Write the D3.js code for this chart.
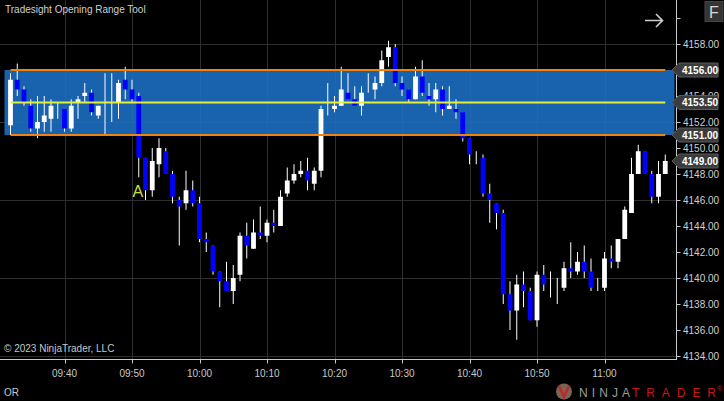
<!DOCTYPE html>
<html><head><meta charset="utf-8">
<script src="https://cdn.jsdelivr.net/npm/d3@7"></script>
<style>html,body{margin:0;padding:0;background:#000;overflow:hidden}svg{display:block}</style>
</head><body>
<script>
const times = ["09:32","09:33","09:34","09:35","09:36","09:37","09:38","09:39","09:40","09:41",
"09:42","09:43","09:44","09:45","09:46","09:47","09:48","09:49","09:50","09:51",
"09:52","09:53","09:54","09:55","09:56","09:57","09:58","09:59","10:00","10:01",
"10:02","10:03","10:04","10:05","10:06","10:07","10:08","10:09","10:10","10:11",
"10:12","10:13","10:14","10:15","10:16","10:17","10:18","10:19","10:20","10:21",
"10:22","10:23","10:24","10:25","10:26","10:27","10:28","10:29","10:30","10:31",
"10:32","10:33","10:34","10:35","10:36","10:37","10:38","10:39","10:40","10:41",
"10:42","10:43","10:44","10:45","10:46","10:47","10:48","10:49","10:50","10:51",
"10:52","10:53","10:54","10:55","10:56","10:57","10:58","10:59","11:00","11:01",
"11:02","11:03","11:04","11:05","11:06","11:07","11:08","11:09"];
const openP = [4151.75,4155.25,4154.5,4153.25,4151.5,4152,4152.25,4153.5,4153,4151.5,
4153.5,4154,4154.25,4152.5,4153.5,4153.5,4153.5,4155.25,4154.5,4154,
4149.25,4146.75,4148.75,4149.75,4148,4146,4145.75,4146.75,4145.75,4143,
4142.5,4140.5,4139.75,4139,4140.25,4143.25,4142.25,4143.5,4143.25,4144.25,
4144,4146.5,4147.5,4148,4148.25,4147.25,4148.25,4153.5,4153,4153.25,
4154.25,4153.75,4153.25,4154.25,4154.5,4155,4157,4157.75,4155,4154.5,
4153.75,4155.5,4154,4153.75,4154.5,4153,4153,4152.75,4150.75,4149.25,
4149.25,4146.5,4145.75,4145,4138.75,4137.5,4139.5,4139,4136.75,4140.25,
4139.5,4139,4139.25,4140.75,4140.5,4141.25,4140.5,4139.5,4139.25,4141.5,
4141.25,4143,4145,4148,4149.75,4148,4146.25,4148];
const highP = [4155.75,4156.5,4154.75,4153.75,4154,4154,4153.75,4153.5,4153,4153.75,
4154,4155,4154.5,4153.25,4155.75,4155.75,4155.25,4156.25,4155.25,4154.25,
4149.25,4150,4150.75,4150,4148.25,4146.25,4148.25,4147.5,4146.25,4143.5,
4142.5,4140.5,4141.25,4141,4143.5,4144.25,4144.5,4145.5,4144.5,4145.25,
4146.75,4148.5,4148.75,4149,4149.25,4148.5,4153.25,4155,4154,4156.25,
4155.75,4154.75,4154.75,4155.75,4155.5,4157.5,4158.25,4158,4155.5,4154.5,
4156.25,4156.75,4155,4155,4154.75,4154.75,4153.75,4152.75,4150.75,4149.75,
4149.5,4147.25,4145.75,4145.25,4139.75,4140.25,4140.5,4139.25,4140.5,4141,
4140.5,4140,4141.25,4142.75,4142,4142.5,4141.5,4140,4142,4142.5,
4143,4145.5,4149.25,4150.25,4149.75,4148.25,4149,4149.5];
const lowP = [4151,4154,4153.25,4151.25,4150.75,4151.25,4151.25,4152.25,4151.25,4151.25,
4152.25,4153.5,4152.5,4152.25,4151,4152,4152.25,4153.75,4153.5,4147.75,
4146,4146.25,4147.75,4148,4145.75,4142.5,4145.25,4145.5,4142.75,4142,
4140.25,4137.75,4139,4138,4139.75,4141.5,4142.25,4143,4142.75,4143.5,
4144,4146.25,4147.25,4147.75,4146.75,4146.75,4147.75,4152.5,4152.75,4153.25,
4153.75,4153.25,4152.5,4154.25,4153.75,4154.75,4156.25,4154.75,4154,4153.5,
4153.75,4154,4153.25,4152.75,4152.5,4153,4152.25,4150.5,4148.75,4148.75,
4146.25,4144.25,4143.75,4138,4136,4135.25,4137.75,4136.75,4136.25,4139,
4138.5,4138,4139,4140,4140.25,4140,4139,4139,4139,4140.75,
4140.75,4143,4145,4148,4148,4145.75,4145.75,4148];
const closeP = [4155.25,4154.5,4153.5,4151.5,4152,4152.5,4153.25,4153.5,4151.5,4153.25,
4153.75,4154.25,4152.75,4153.25,4153.5,4153.5,4155,4154.5,4153.75,4149.25,
4146.75,4149,4150,4148,4146.25,4145.5,4146.75,4145.75,4143,4142.75,
4140.5,4139.75,4139,4140,4143.25,4142.5,4143.5,4143.25,4144.25,4144,
4146.25,4147.5,4148,4148.25,4147.5,4148.25,4153,4153.5,4153.25,4154.5,
4153.75,4153.25,4154.25,4154.25,4155,4156.75,4157.75,4155,4154.5,4153.75,
4155.5,4154.25,4153.75,4154.5,4153,4153.25,4152.75,4150.75,4149.5,4149.25,
4146.5,4146,4145,4138.75,4137.5,4139.5,4139,4136.75,4140.25,4139.5,
4139.5,4139,4140.75,4140.5,4141.25,4140.5,4139.25,4139.5,4141.5,4141.25,
4143,4145.25,4148,4149.75,4148,4146.25,4148,4149];
const timeTicks = ["09:40","09:50","10:00","10:10","10:20","10:30","10:40","10:50","11:00"];
const priceTicks = [4134,4136,4138,4140,4142,4144,4146,4148,4150,4152,4154,4156,4158,4160];
const gridPrices = [4134,4140,4146,4152,4158];
const orHigh = 4156, orLow = 4151, orMid = 4153.5;
const markers = [4156, 4153.5, 4151, 4149];

const W = 724, H = 401;
const parse = d3.timeParse("%H:%M");
const plotRight = 676.5, axisY = 359.5;

const x = d3.scaleTime().domain([parse("09:40"), parse("11:00")]).range([64.5, 604.5]);
const y = d3.scaleLinear().domain([4134, 4158]).range([356, 44]);

const data = times.map((t,i)=>({t:parse(t),o:openP[i],h:highP[i],l:lowP[i],c:closeP[i]}));

const svg = d3.select("body").append("svg").attr("width",W).attr("height",H)
  .style("font-family","'Liberation Sans', Arial, sans-serif");
svg.append("rect").attr("width",W).attr("height",H).attr("fill","#000");

// grid
const grid = svg.append("g");
grid.selectAll(".vg").data(timeTicks).join("line")
  .attr("x1",d=>Math.round(x(parse(d)))+0.5).attr("x2",d=>Math.round(x(parse(d)))+0.5)
  .attr("y1",0).attr("y2",axisY).attr("stroke","#2f2f2f").attr("stroke-width",1);
grid.selectAll(".hg").data(gridPrices).join("line")
  .attr("x1",0).attr("x2",plotRight).attr("y1",d=>Math.round(y(d))+0.5).attr("y2",d=>Math.round(y(d))+0.5)
  .attr("stroke","#2f2f2f").attr("stroke-width",1);

// opening range box
const x0 = x(data[0].t), xN = x(data[data.length-1].t);
svg.append("rect").attr("x",x0-6).attr("y",y(orHigh)).attr("width",plotRight-2-(x0-6))
  .attr("height",y(orLow)-y(orHigh)).attr("fill","#1d6fc6").attr("opacity",0.88);

// candles
const cg = svg.append("g");
cg.selectAll("line").data(data).join("line")
  .attr("x1",d=>x(d.t)).attr("x2",d=>x(d.t)).attr("y1",d=>y(d.h)).attr("y2",d=>y(d.l))
  .attr("stroke","#ffffff").attr("stroke-width",1);
const bw = 4.8;
cg.selectAll("rect").data(data).join("rect")
  .attr("x",d=>x(d.t)-bw/2).attr("width",bw)
  .attr("y",d=>y(Math.max(d.o,d.c))).attr("height",d=>Math.abs(y(d.o)-y(d.c)))
  .attr("fill",d=>d.c>=d.o?"#ffffff":"#0000ff");

// OR lines
svg.append("line").attr("x1",x0).attr("x2",xN).attr("y1",y(orHigh)).attr("y2",y(orHigh)).attr("stroke","#f0820f").attr("stroke-width",2);
svg.append("line").attr("x1",x0).attr("x2",xN).attr("y1",y(orLow)).attr("y2",y(orLow)).attr("stroke","#f0820f").attr("stroke-width",2);
svg.append("line").attr("x1",x0).attr("x2",xN).attr("y1",y(orMid)).attr("y2",y(orMid)).attr("stroke","#e6ee3c").attr("stroke-width",2);

// "A" label
svg.append("text").attr("x",x(parse("09:50"))+0.5).attr("y",197).attr("text-anchor","start")
  .attr("fill","#c9e03a").attr("font-size",16).text("A");

// right axis
svg.append("line").attr("x1",plotRight).attr("x2",plotRight).attr("y1",0).attr("y2",axisY+0.5).attr("stroke","#c8c8c8");
const ra = svg.append("g");
ra.selectAll("line").data(priceTicks).join("line")
  .attr("x1",plotRight).attr("x2",plotRight+4).attr("y1",d=>Math.round(y(d))+0.5).attr("y2",d=>Math.round(y(d))+0.5)
  .attr("stroke","#c8c8c8");
ra.selectAll("text").data(priceTicks.filter(d=>d<=4158)).join("text")
  .attr("x",683).attr("y",d=>y(d)+3.5).attr("fill","#d0d0d0").attr("font-size",10).text(d=>d3.format(".2f")(d));

// price markers
const mk = svg.append("g");
markers.forEach(p=>{
  const yy = y(p);
  mk.append("path").attr("d",`M672,${yy} L679,${yy-7} L718,${yy-7} L718,${yy+7} L679,${yy+7} Z`)
    .attr("fill","#3c3c3c").attr("stroke","#5a5a5a").attr("stroke-width",1);
  mk.append("text").attr("x",682).attr("y",yy+3.5).attr("fill","#ffffff").attr("font-size",10).attr("font-weight","bold")
    .text(d3.format(".2f")(p));
});

// bottom axis
svg.append("line").attr("x1",0).attr("x2",plotRight).attr("y1",axisY).attr("y2",axisY).attr("stroke","#c8c8c8");
const ba = svg.append("g");
ba.selectAll("line").data(timeTicks).join("line")
  .attr("x1",d=>Math.round(x(parse(d)))+0.5).attr("x2",d=>Math.round(x(parse(d)))+0.5)
  .attr("y1",axisY).attr("y2",axisY+4).attr("stroke","#c8c8c8");
ba.selectAll("text").data(timeTicks).join("text")
  .attr("x",d=>x(parse(d))).attr("y",377).attr("text-anchor","middle").attr("fill","#c8c8c8").attr("font-size",10).text(d=>d);

// texts
svg.append("text").attr("x",5).attr("y",13).attr("fill","#d0d0d0").attr("font-size",10).text("Tradesight Opening Range Tool");
svg.append("text").attr("x",4).attr("y",352).attr("fill","#c8c8c8").attr("font-size",10).text("© 2023 NinjaTrader, LLC");
svg.append("text").attr("x",4).attr("y",396).attr("fill","#c8c8c8").attr("font-size",10).text("OR");

// arrow
svg.append("path").attr("d","M645,20.5 L662,20.5 M656,14 L662.5,20.5 L656,27").attr("fill","none").attr("stroke","#cfcfcf").attr("stroke-width",1.6);
// F button
svg.append("rect").attr("x",705).attr("y",1.5).attr("width",18).attr("height",20).attr("fill","#353535").attr("stroke","#444");
svg.append("text").attr("x",714).attr("y",18).attr("text-anchor","middle").attr("fill","#d8d8d8").attr("font-size",16).text("F");

// logo
const lg = svg.append("g");
lg.append("circle").attr("cx",564).attr("cy",391.5).attr("r",8).attr("fill","#7a6456");
lg.append("path").attr("d","M559,386 L564,397 L569,386").attr("fill","none").attr("stroke","#c0282c").attr("stroke-width",2.5);
lg.append("text").attr("x",579).attr("y",396.5).attr("fill","#9c9c9c").attr("font-size",12).attr("textLength",51).attr("lengthAdjust","spacing").text("NINJA");
lg.append("text").attr("x",632).attr("y",396.5).attr("fill","#c8161d").attr("font-size",12).attr("textLength",84).attr("lengthAdjust","spacing").text("TRADER");
lg.append("text").attr("x",717).attr("y",391).attr("fill","#c8161d").attr("font-size",7).text("®");
</script>
</body></html>
